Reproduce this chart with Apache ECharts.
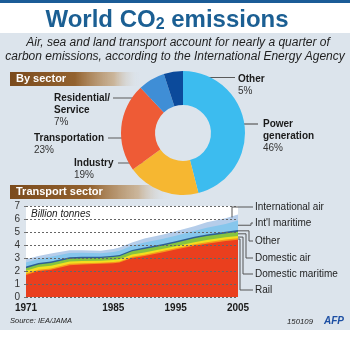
<!DOCTYPE html>
<html><head><meta charset="utf-8">
<script src="https://cdn.jsdelivr.net/npm/echarts@6/dist/echarts.min.js"></script>
<style>
html,body{margin:0;padding:0;background:#fff}
#c{width:350px;height:362px;background:linear-gradient(to bottom,#1b5c97 0px,#1b5c97 3px,#ffffff 3px,#ffffff 33px,#dce4ec 33px,#dce4ec 330px,#ffffff 330px)}
</style>
</head><body><div id="c"></div>
<script>
// ---- data ----
const sectorNames = ['Power generation', 'Industry', 'Transportation', 'Residential/ Service', 'Other'];
const sectorLabels = ['Power\ngeneration', 'Industry', 'Transportation', 'Residential/\nService', 'Other'];
const sectorValues = [46, 19, 23, 7, 5];

const years = [1971, 1973, 1975, 1978, 1980, 1983, 1985, 1986, 1988, 1990, 1993, 1995, 1998, 2000, 2003, 2005];
const roadValues = [1.70, 2.00, 2.10, 2.45, 2.50, 2.55, 2.60, 2.65, 3.00, 3.15, 3.45, 3.65, 3.95, 4.10, 4.30, 4.40];
const railValues = [0.10, 0.10, 0.10, 0.10, 0.10, 0.09, 0.09, 0.09, 0.10, 0.10, 0.10, 0.10, 0.11, 0.11, 0.12, 0.12];
const domesticMaritimeValues = [0.22, 0.20, 0.21, 0.18, 0.17, 0.15, 0.16, 0.16, 0.16, 0.17, 0.16, 0.16, 0.16, 0.17, 0.17, 0.18];
const domesticAirValues = [0.20, 0.20, 0.21, 0.22, 0.22, 0.21, 0.23, 0.24, 0.25, 0.27, 0.26, 0.27, 0.29, 0.31, 0.30, 0.32];
const otherValues = [0.12, 0.11, 0.12, 0.11, 0.11, 0.10, 0.10, 0.10, 0.10, 0.11, 0.11, 0.11, 0.12, 0.12, 0.13, 0.14];
const intlMaritimeValues = [0.32, 0.32, 0.36, 0.32, 0.30, 0.27, 0.29, 0.31, 0.33, 0.40, 0.40, 0.42, 0.45, 0.52, 0.60, 0.72];
const intlAirValues = [0.24, 0.22, 0.25, 0.22, 0.20, 0.18, 0.23, 0.25, 0.26, 0.30, 0.32, 0.34, 0.37, 0.42, 0.43, 0.47];

const xTickLabels = [1971, 1985, 1995, 2005];
const yTickMin = 0, yTickMax = 7, yTickStep = 1;

// ---- styles / layout ----
const FONT = '"Liberation Sans", Arial, Helvetica, sans-serif';
const layers = [
  { name: 'Road', data: roadValues, color: '#ea3f1e' },
  { name: 'Rail', data: railValues, color: '#f7941d' },
  { name: 'Domestic maritime', data: domesticMaritimeValues, color: '#f2df1f' },
  { name: 'Domestic air', data: domesticAirValues, color: '#86c440' },
  { name: 'Other', data: otherValues, color: '#2c5f96' },
  { name: "Int'l maritime", data: intlMaritimeValues, color: '#86c6ec' },
  { name: 'International air', data: intlAirValues, color: '#b5cdea' }
];
const sectorColors = ['#3cbcef', '#f6b731', '#ee5b36', '#3f8ed6', '#0b4a9b'];
const pieLabelLayout = [
  { x: 263, y: 118, x1: 227, x2: 258, ly: 124 },
  { x: 74, y: 157, x1: 118, x2: 157, ly: 163 },
  { x: 34, y: 132, x1: 108, x2: 142, ly: 138 },
  { x: 54, y: 92, x1: 113, x2: 164, ly: 98 },
  { x: 238, y: 73, x1: 173, x2: 235, ly: 77.5 }
];
const areaLabelLayout = [
  { layer: 6, y: 207, elbow: 232, inside: true },
  { layer: 5, y: 223, elbow: 251 },
  { layer: 4, y: 241, elbow: 249 },
  { layer: 3, y: 258, elbow: 246 },
  { layer: 2, y: 274, elbow: 243 },
  { layer: 1, y: 290, elbow: 240 }
];

// running totals (stack), each layer drawn as area from 0 to its cumulative top,
// top-most layer first so lower layers paint over it
const cumulative = [];
layers.forEach((l, k) => {
  cumulative.push(l.data.map((v, i) => +(v + (k ? cumulative[k - 1][i] : 0)).toFixed(3)));
});

const chart = echarts.init(document.getElementById('c'), null, { renderer: 'canvas' });

function headerBar(id, x, y, w, h, text) {
  return [
    { type: 'rect', id: id + 'r', shape: { x: x, y: y, width: w, height: h },
      style: { fill: { type: 'linear', x: 0, y: 0, x2: 1, y2: 0, colorStops: [
        { offset: 0, color: '#7b4b1d' }, { offset: 0.5, color: '#93622f' },
        { offset: 0.8, color: 'rgba(190,150,100,0.6)' }, { offset: 1, color: 'rgba(220,228,236,0)' }] } } },
    { type: 'text', id: id + 't', x: x + 6, y: y + h / 2,
      style: { text: text, fill: '#fff', font: 'bold 11px ' + FONT, verticalAlign: 'middle', textVerticalAlign: 'middle' } }
  ];
}

const staticGraphics = [
  { type: 'text', id: 'title', x: 167, y: 19.5,
    style: { text: '{a|World CO}{b|2}{a| emissions}', align: 'center', verticalAlign: 'middle', textAlign: 'center', textVerticalAlign: 'middle',
      rich: { a: { font: 'bold 24px ' + FONT, fill: '#1b5f93', lineHeight: 26, verticalAlign: 'bottom' },
              b: { font: 'bold 16px ' + FONT, fill: '#1b5f93', lineHeight: 26, verticalAlign: 'bottom' } } } },
  { type: 'text', id: 'sub1', x: 178, y: 43,
    style: { text: 'Air, sea and land transport account for nearly a quarter of', fill: '#1e1e1e', font: 'italic 12px ' + FONT,
      align: 'center', verticalAlign: 'middle', textAlign: 'center', textVerticalAlign: 'middle' } },
  { type: 'text', id: 'sub2', x: 175, y: 57,
    style: { text: 'carbon emissions, according to the International Energy Agency', fill: '#1e1e1e', font: 'italic 12px ' + FONT,
      align: 'center', verticalAlign: 'middle', textAlign: 'center', textVerticalAlign: 'middle' } },
  ...headerBar('h1', 10, 72, 130, 14, 'By sector'),
  ...headerBar('h2', 10, 185, 160, 14, 'Transport sector'),
  { type: 'text', id: 'unit', x: 31, y: 214,
    style: { text: 'Billion tonnes', fill: '#222', font: 'italic 10px ' + FONT, verticalAlign: 'middle', textVerticalAlign: 'middle' }, z: 10 },
  { type: 'text', id: 'src', x: 10, y: 321,
    style: { text: 'Source: IEA/JAMA', fill: '#222', font: 'italic 7.5px ' + FONT, verticalAlign: 'middle', textVerticalAlign: 'middle' } },
  { type: 'text', id: 'code', x: 287, y: 321.5,
    style: { text: '150109', fill: '#222', font: 'italic 7.8px ' + FONT, verticalAlign: 'middle', textVerticalAlign: 'middle' } },
  { type: 'text', id: 'afp', x: 324, y: 321,
    style: { text: 'AFP', fill: '#1d4fa3', font: 'italic bold 10px ' + FONT, verticalAlign: 'middle', textVerticalAlign: 'middle' } }
];

const areaSeries = layers.map((l, k) => ({
  type: 'line', name: l.name, symbol: 'none', silent: true,
  lineStyle: { width: 0 }, areaStyle: { color: l.color, opacity: 1 }, itemStyle: { color: l.color },
  data: years.map((y, i) => [y, cumulative[k][i]])
})).reverse();

const option = {
  animation: false,
  backgroundColor: 'transparent',
  textStyle: { fontFamily: FONT },
  grid: { left: 26, right: 112, top: 206, bottom: 65, show: true, backgroundColor: '#ffffff', borderWidth: 0 },
  xAxis: {
    type: 'value', min: 1971, max: 2005,
    axisLine: { show: false }, axisTick: { show: false }, splitLine: { show: false },
    axisLabel: { customValues: xTickLabels, formatter: v => String(v), fontWeight: 'bold', fontSize: 10, color: '#1a1a1a', margin: 6, fontFamily: FONT }
  },
  yAxis: {
    type: 'value', min: yTickMin, max: yTickMax, interval: yTickStep, z: 5,
    axisLine: { show: false },
    axisTick: { show: true, length: 3, lineStyle: { color: '#777', type: [2, 2] } },
    splitLine: { show: true, lineStyle: { color: '#666', width: 1, type: [2, 2] } },
    axisLabel: { fontSize: 10, color: '#333', margin: 6, fontFamily: FONT }
  },
  series: [
    {
      type: 'pie', name: 'By sector', center: [183, 133], radius: [28, 62], startAngle: 90, clockwise: true,
      silent: true, avoidLabelOverlap: false, emphasis: { disabled: true },
      data: sectorNames.map((n, i) => ({ name: n, value: sectorValues[i], itemStyle: { color: sectorColors[i] } })),
      label: {
        show: true, position: 'outside',
        formatter: p => sectorLabels[p.dataIndex].split('\n').map(s => '{n|' + s + '}').join('\n') + '\n{p|' + p.value + '%}',
        rich: {
          n: { fontWeight: 'bold', fontSize: 10, lineHeight: 12, color: '#1a1a1a', fontFamily: FONT },
          p: { fontSize: 10, lineHeight: 12, color: '#333', fontFamily: FONT }
        }
      },
      labelLine: { show: true, lineStyle: { color: '#5a5a5a', width: 1.2 } },
      labelLayout: p => {
        const L = pieLabelLayout[p.dataIndex];
        return { x: L.x, y: L.y, align: 'left', verticalAlign: 'top', labelLinePoints: [[L.x1, L.ly], [(L.x1 + L.x2) / 2, L.ly], [L.x2, L.ly]] };
      }
    },
    ...areaSeries
  ],
  graphic: { elements: staticGraphics }
};
chart.setOption(option);

// leaders for the stacked-area labels, anchored through the chart's own scales
const lastIdx = years.length - 1;
const lastYear = years[lastIdx];
const extra = [];
areaLabelLayout.forEach((a, k) => {
  const top = cumulative[a.layer][lastIdx];
  const base = cumulative[a.layer - 1][lastIdx];
  const p = chart.convertToPixel({ xAxisIndex: 0, yAxisIndex: 0 }, [lastYear, (top + base) / 2]);
  let pts;
  if (a.inside) pts = [[a.elbow, p[1]], [a.elbow, a.y], [253, a.y]];
  else pts = [[p[0], p[1]], [a.elbow, p[1]], [a.elbow, a.y], [253, a.y]];
  extra.push({ type: 'polyline', id: 'ld' + k, shape: { points: pts }, style: { stroke: '#555', lineWidth: 1, fill: null }, z: 20 });
  extra.push({ type: 'text', id: 'lt' + k, x: 255, y: a.y,
    style: { text: layers[a.layer].name, fill: '#1e1e1e', font: '10px ' + FONT, verticalAlign: 'middle', textVerticalAlign: 'middle' }, z: 20 });
});
chart.setOption({ graphic: { elements: extra } });
</script>
</body></html>
